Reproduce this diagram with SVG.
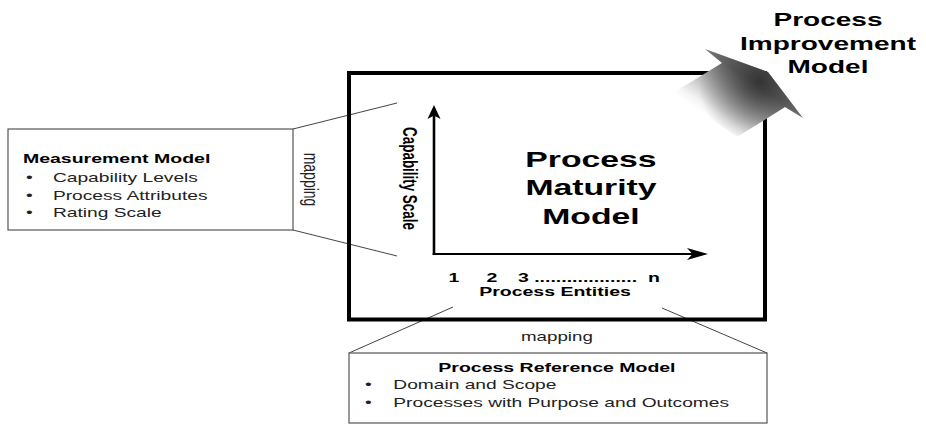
<svg xmlns="http://www.w3.org/2000/svg" width="926" height="425" viewBox="0 0 926 425">
<style>
text{font-family:"Liberation Sans",Arial,sans-serif;}
.b{font-weight:bold;fill:#000;}
.r{fill:#222;}
.box{fill:#fff;stroke:#555;stroke-width:1.2;}
.map{stroke:#444;stroke-width:1;fill:none;}
.axis{stroke:#000;fill:none;}
</style>
<defs>
<linearGradient id="ga" gradientUnits="userSpaceOnUse" x1="673" y1="93" x2="704" y2="48">
<stop offset="0" stop-color="#ffffff"/>
<stop offset="0.15" stop-color="#f4f4f4"/>
<stop offset="1" stop-color="#777777"/>
</linearGradient>
<radialGradient id="gr" gradientUnits="userSpaceOnUse" cx="760" cy="82" r="62">
<stop offset="0" stop-color="#1e1e1e" stop-opacity="0.75"/>
<stop offset="0.55" stop-color="#1e1e1e" stop-opacity="0.35"/>
<stop offset="1" stop-color="#1e1e1e" stop-opacity="0"/>
</radialGradient>
</defs>

<g id="connectors">
<line class="map" x1="293" y1="129" x2="397" y2="103"/>
<line class="map" x1="293" y1="230" x2="397" y2="256"/>
<line class="map" x1="349" y1="353" x2="453" y2="307"/>
<line class="map" x1="767" y1="353" x2="662" y2="308"/>
<text class="r" font-size="14" text-anchor="middle" transform="translate(304,179.5) scale(1.5,1) rotate(90)">mapping</text>
<text class="r" font-size="12.5" text-anchor="middle" x="371.3" y="341" transform="scale(1.5,1)">mapping</text>
</g>

<g id="process-maturity-model">
<rect x="349" y="73" width="416" height="246.5" fill="none" stroke="#000" stroke-width="4"/>
<line class="axis" x1="434" y1="255" x2="434" y2="112" stroke-width="2.6"/>
<path d="M434,105 L440.5,119 L434,115.5 L427.5,119 Z" fill="#000"/>
<line class="axis" x1="432.7" y1="254" x2="695" y2="254" stroke-width="2"/>
<path d="M708,254 L687,248 L692.5,254 L687,260 Z" fill="#000"/>
<text class="b" font-size="13.4" text-anchor="middle" transform="translate(403,178.5) scale(1.5,1) rotate(90)">Capability Scale</text>
<text class="b" font-size="22.5" text-anchor="middle" transform="scale(1.5,1)"><tspan x="394" y="167">Process</tspan><tspan x="394" y="195.5">Maturity</tspan><tspan x="394" y="224">Model</tspan></text>
<text class="b" font-size="13" text-anchor="middle" x="302.7" y="281.7" transform="scale(1.5,1)">1</text>
<text class="b" font-size="13" text-anchor="middle" x="328" y="281.7" transform="scale(1.5,1)">2</text>
<text class="b" font-size="13" x="345.3" y="281.7" transform="scale(1.5,1)">3 ...................</text>
<text class="b" font-size="13" text-anchor="middle" x="436" y="281.7" transform="scale(1.5,1)">n</text>
<text class="b" font-size="13" text-anchor="middle" x="370" y="296" transform="scale(1.5,1)">Process Entities</text>
</g>

<g id="measurement-model">
<rect class="box" x="8" y="129" width="285" height="101"/>
<text class="b" font-size="13" x="15.3" y="162.7" transform="scale(1.5,1)">Measurement Model</text>
<g class="r" font-size="12.8" transform="scale(1.5,1)">
<text x="17.3" y="181.7">•</text><text x="35.3" y="181.7">Capability Levels</text>
<text x="17.3" y="200">•</text><text x="35.3" y="200">Process Attributes</text>
<text x="17.3" y="217.3">•</text><text x="35.3" y="217.3">Rating Scale</text>
</g>
</g>

<g id="process-reference-model">
<rect class="box" x="349" y="353" width="418" height="70"/>
<text class="b" font-size="13" text-anchor="middle" x="371.3" y="371.7" transform="scale(1.5,1)">Process Reference Model</text>
<g class="r" font-size="12.8" transform="scale(1.5,1)">
<text x="243.3" y="389.3">•</text><text x="262.2" y="389.3">Domain and Scope</text>
<text x="243.3" y="406.7">•</text><text x="262.2" y="406.7">Processes with Purpose and Outcomes</text>
</g>
</g>

<g id="process-improvement-model">
<polygon points="673,93 722,63 705,49 768,72 803,118 785,107 737,137" fill="url(#ga)"/>
<polygon points="673,93 722,63 705,49 768,72 803,118 785,107 737,137" fill="url(#gr)"/>
<text class="b" font-size="18.7" text-anchor="middle" transform="scale(1.5,1)"><tspan x="552" y="26">Process</tspan><tspan x="552" y="50">Improvement</tspan><tspan x="552" y="73.5">Model</tspan></text>
</g>
</svg>
